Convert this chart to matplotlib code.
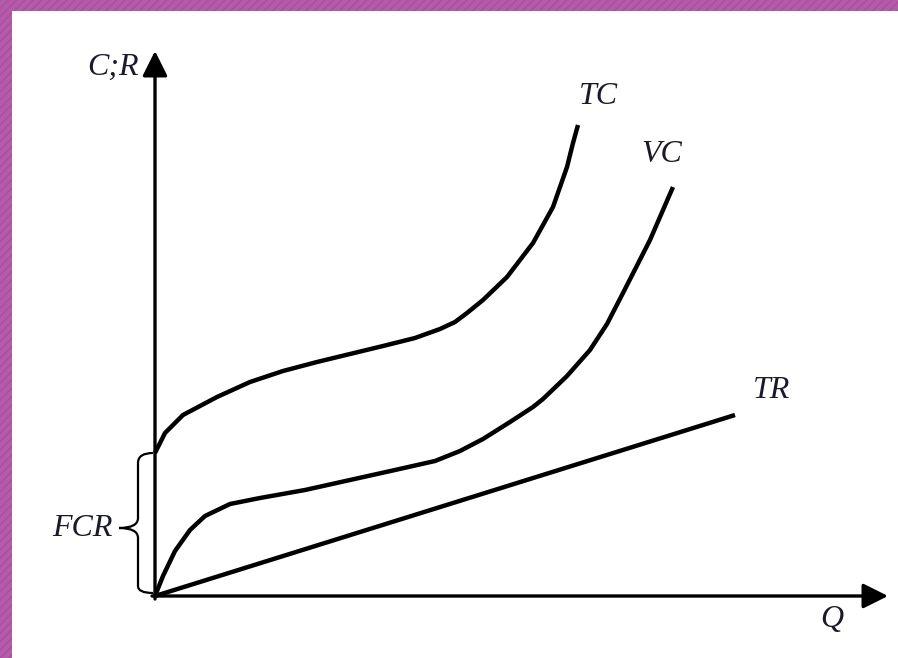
import matplotlib.pyplot as plt
from matplotlib.patches import Rectangle
from matplotlib.path import Path
from matplotlib.patches import PathPatch

q_tc = [0, 10, 28, 62, 95, 128, 162, 195, 228, 260, 285, 300, 312, 328, 352, 378, 398, 412, 418, 423]
c_tc = [143, 163, 181, 199, 214, 225, 234, 242, 250, 258, 267, 274, 283, 296, 319, 353, 389, 429, 453, 471]

q_vc = [0, 8, 20, 35, 50, 75, 105, 150, 195, 240, 280, 305, 328, 355, 378, 388, 412, 435, 452, 468, 495, 518]
c_vc = [0, 20, 45, 66, 80, 92, 98, 106, 116, 126, 135, 145, 157, 174, 189, 197, 220, 246, 272, 303, 356, 409]

q_tr = [0, 580]
c_tr = [0, 181]

fc = 143  # fixed cost level on the C axis

labels = {'TC': (443, 499), 'VC': (507, 441), 'TR': (617, 206)}


def main():
    fig = plt.figure(figsize=(8.98, 6.58), dpi=100)

    # purple striped frame
    bg = fig.add_axes([0, 0, 1, 1])
    bg.set_xlim(0, 898)
    bg.set_ylim(658, 0)
    bg.axis('off')
    bg.add_patch(Rectangle((0, 0), 898, 658, facecolor='#b65ba9', edgecolor='#a94f9d',
                           hatch='////', lw=0))
    bg.add_patch(Rectangle((12, 11), 900, 660, facecolor='white', lw=0))

    ax = fig.add_axes([0, 0, 1, 1])
    ax.set_xlim(-155, 743)
    ax.set_ylim(-62, 596)
    ax.axis('off')
    ax.patch.set_alpha(0)

    font = dict(family='Liberation Serif', style='italic', fontsize=23, color='#1a1a2a')

    # axes with arrow heads
    ax.annotate('', xy=(0, 545), xytext=(0, -3),
                arrowprops=dict(arrowstyle='-|>', mutation_scale=38, lw=2.4, color='black',
                                shrinkA=0, shrinkB=0))
    ax.annotate('', xy=(733, 0), xytext=(-3, 0),
                arrowprops=dict(arrowstyle='-|>', mutation_scale=38, lw=2.4, color='black',
                                shrinkA=0, shrinkB=0))

    for q, c in [(q_tc, c_tc), (q_vc, c_vc), (q_tr, c_tr)]:
        ax.plot(q, c, color='black', lw=3.2, solid_capstyle='butt', solid_joinstyle='round')

    for name, (x, y) in labels.items():
        ax.text(x, y, name, ha='center', va='center', **font)
    ax.text(-42, 529, 'C;R', ha='center', va='center', **font)
    ax.text(677, -24, 'Q', ha='center', va='center', **font)
    ax.text(-73, 68, 'FCR', ha='center', va='center', **font)

    # curly brace marking fixed cost
    xb, xt, xr = -17, -36, -2
    ym = 68
    verts = [(xr, fc), (xb, fc), (xb, fc - 10), (xb, ym + 10), (xb, ym), (xt, ym),
             (xb, ym), (xb, ym - 10), (xb, 10), (xb, 3), (xr, 3)]
    codes = [Path.MOVETO, Path.CURVE3, Path.CURVE3, Path.LINETO, Path.CURVE3, Path.CURVE3,
             Path.CURVE3, Path.CURVE3, Path.LINETO, Path.CURVE3, Path.CURVE3]
    ax.add_patch(PathPatch(Path(verts, codes), fill=False, lw=1.6, edgecolor='black'))

    fig.savefig('out.png', dpi=100)


if __name__ == "__main__":
    main()
